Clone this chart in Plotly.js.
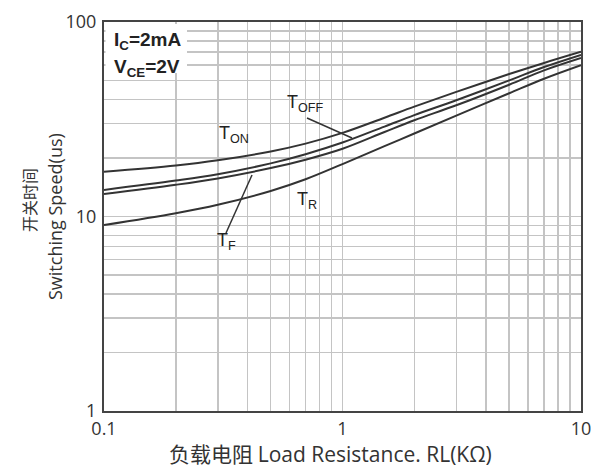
<!DOCTYPE html>
<html>
<head>
<meta charset="utf-8">
<script src="https://cdn.plot.ly/plotly-3.0.1.min.js"></script>
<style>html,body{margin:0;padding:0;background:#fff;}</style>
</head>
<body>
<div id="chart" style="width:601px;height:468px;"></div>
<script>
// Load resistance RL (kΩ)
const loadRes = [0.1, 0.2, 0.3, 0.5, 0.7, 1, 1.5, 2, 3, 5, 7, 10];
// Switching times (us)
const tOn  = [17.0, 18.3, 19.45, 21.6, 23.7, 26.9, 32.2, 36.7, 43.7, 54.0, 61.6, 70.3];
const tOff = [13.7, 15.3, 16.5, 18.75, 20.9, 24.0, 29.0, 33.2, 39.6, 50.1, 58.7, 67.8];
const tF   = [13.05, 14.56, 15.7, 17.74, 19.6, 22.3, 27.2, 31.25, 37.3, 47.6, 56.4, 65.3];
const tR   = [9.04, 10.4, 11.49, 13.53, 15.54, 18.6, 23.0, 26.7, 33.0, 43.0, 51.1, 60.0];

const xTickVals = [0.1,0.2,0.3,0.4,0.5,0.6,0.7,0.8,0.9,1,2,3,4,5,6,7,8,9,10];
const xTickText = ['0.1','','','','','','','','','1','','','','','','','','','10'];
const yTickVals = [1,2,3,4,5,6,7,8,9,10,20,30,40,50,60,70,80,90,100];
const yTickText = ['1','','','','','','','','','10','','','','','','','','','100'];

const lineStyle = {color:'#333', width:2, shape:'spline', smoothing:1};
const traces = [tOn, tOff, tF, tR].map((ys, i) => ({
  x: loadRes, y: ys, type:'scatter', mode:'lines', line: lineStyle,
  name: ['T_ON','T_OFF','T_F','T_R'][i], showlegend:false, hoverinfo:'skip'
}));

const lblFont = {family:'Liberation Sans, Arial, sans-serif', size:18, color:'#222'};
const condFont = {family:'Liberation Sans Narrow, Arial Narrow, Liberation Sans, sans-serif', size:19, color:'#222'};
const titleFontCJK = 'Noto Sans CJK SC, sans-serif';
const titleFontLat = 'Open Sans, Noto Sans CJK SC, sans-serif';
const px = v => (v - 104) / 477;
const py = v => (411 - v) / 389;

const layout = {
  width:601, height:468,
  margin:{l:104, r:20, t:22, b:57},
  paper_bgcolor:'#fff', plot_bgcolor:'#fff',
  font:{family:'Open Sans, sans-serif', color:'#333'},
  xaxis:{
    type:'log', range:[-1, 1],
    tickvals:xTickVals, ticktext:xTickText, ticks:'',
    showgrid:true, gridcolor:'#c4c4c4', gridwidth:1.5,
    showline:true, linecolor:'#444', linewidth:2, mirror:true,
    tickfont:{size:18, color:'#333'}, zeroline:false
  },
  yaxis:{
    type:'log', range:[0, 2],
    tickvals:yTickVals, ticktext:yTickText, ticks:'',
    showgrid:true, gridcolor:'#c4c4c4', gridwidth:1.5,
    showline:true, linecolor:'#444', linewidth:2, mirror:true,
    tickfont:{size:18, color:'#333'}, zeroline:false, ticklabelstandoff:2
  },
  annotations:[
    {text:'负载电阻 <span style="font-family:Open Sans">Load Resistance. RL(KΩ)</span>', xref:'paper', yref:'paper', x:px(330), y:py(453), xanchor:'center', yanchor:'middle', showarrow:false, font:{family:titleFontCJK, size:21, color:'#333'}},
    {text:'开关时间', xref:'paper', yref:'paper', x:px(29), y:py(200), xanchor:'center', yanchor:'middle', textangle:-90, showarrow:false, font:{family:titleFontCJK, size:16, color:'#333'}},
    {text:'Switching Speed(us)', xref:'paper', yref:'paper', x:px(55), y:py(217), xanchor:'center', yanchor:'middle', textangle:-90, showarrow:false, font:{family:titleFontLat, size:18, color:'#333'}},
    {text:'<b>I<sub>C</sub>=2mA</b>', xref:'paper', yref:'paper', x:px(112), y:py(41), xanchor:'left', yanchor:'middle', showarrow:false, font:condFont},
    {text:'<b>V<sub>CE</sub>=2V</b>', xref:'paper', yref:'paper', x:px(112), y:py(68), xanchor:'left', yanchor:'middle', showarrow:false, font:condFont},
    {text:'T<sub>ON</sub>', xref:'paper', yref:'paper', x:px(217), y:py(134), xanchor:'left', yanchor:'middle', showarrow:false, font:lblFont},
    {text:'T<sub>OFF</sub>', xref:'paper', yref:'paper', x:px(285), y:py(104), xanchor:'left', yanchor:'middle', showarrow:false, font:lblFont},
    {text:'T<sub>R</sub>', xref:'paper', yref:'paper', x:px(295), y:py(200), xanchor:'left', yanchor:'middle', showarrow:false, font:lblFont},
    {text:'T<sub>F</sub>', xref:'paper', yref:'paper', x:px(215), y:py(241), xanchor:'left', yanchor:'middle', showarrow:false, font:lblFont}
  ],
  shapes:[
    {type:'rect', xref:'paper', yref:'paper', x0:px(105.5), y0:py(24), x1:px(187), y1:py(73), fillcolor:'#fff', line:{width:0}, layer:'above'},
    {type:'line', xref:'paper', yref:'paper', x0:px(307), y0:py(118), x1:px(352), y1:py(138), line:{color:'#333', width:1.5}},
    {type:'line', xref:'paper', yref:'paper', x0:px(226), y0:py(233), x1:px(252), y1:py(175), line:{color:'#333', width:1.5}}
  ]
};

Plotly.newPlot('chart', traces, layout, {staticPlot:true, displayModeBar:false});
</script>
</body>
</html>
